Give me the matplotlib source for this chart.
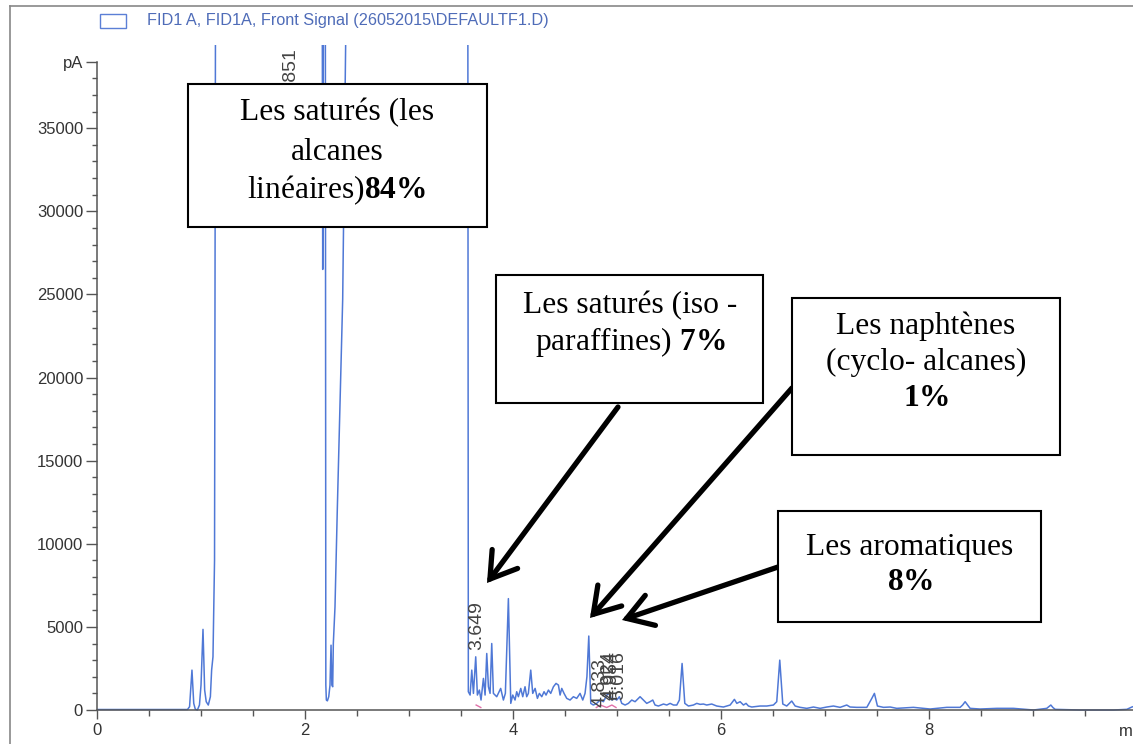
import matplotlib
matplotlib.use("Agg")
import matplotlib.pyplot as plt
from matplotlib import font_manager
from matplotlib.patches import Rectangle
from matplotlib.lines import Line2D
import numpy as np

# ---------------- data ----------------
OFF = 45000  # saturated / off-scale signal

seg_a_time = [0.00, 0.87, 0.89, 0.913, 0.93, 0.945, 0.965, 0.985, 1.00, 1.019, 1.035, 1.05, 1.07, 1.09, 1.102, 1.115, 1.13, 1.14]
seg_a_pA = [30, 30, 200, 2400, 400, 50, 0, 300, 1500, 4850, 1200, 500, 300, 800, 2400, 3200, 9000, OFF]

seg_b_time = [2.165, 2.170, 2.178, 2.195, 2.200, 2.205, 2.215, 2.228, 2.240, 2.250, 2.258, 2.266, 2.272, 2.288, 2.310, 2.343, 2.362, 2.391, 2.400]
seg_b_pA = [OFF, 26500, OFF, OFF, 1500, 600, 550, 800, 1500, 3900, 1500, 1400, 4000, 6200, 12000, 19900, 24700, 40500, OFF]

seg_c_time = [3.565, 3.570, 3.587, 3.603, 3.619, 3.641, 3.657, 3.676, 3.692, 3.715, 3.731, 3.747, 3.763, 3.779, 3.795, 3.811, 3.843,
              3.881, 3.907, 3.926, 3.955, 3.978, 3.997, 4.019, 4.035, 4.051, 4.074, 4.093, 4.115, 4.131, 4.147, 4.170, 4.189]
seg_c_pA = [OFF, 1100, 900, 2400, 1000, 3200, 900, 1200, 600, 1900, 900, 3400, 1400, 1000, 4000, 1000, 800,
            1300, 600, 1000, 6700, 400, 900, 600, 1100, 800, 1300, 800, 1400, 800, 1000, 2400, 1000]

seg_d_time = [4.212, 4.234, 4.253, 4.276, 4.298, 4.317, 4.340, 4.362, 4.388, 4.413, 4.436, 4.452, 4.468, 4.490, 4.516, 4.548, 4.580,
              4.612, 4.644, 4.670, 4.692, 4.710, 4.728, 4.747, 4.772, 4.804, 4.837, 4.869, 4.901, 4.926, 4.949, 4.971, 4.997,
              5.022, 5.045, 5.077, 5.109, 5.141, 5.173, 5.205]
seg_d_pA = [1300, 700, 1000, 800, 1100, 900, 1200, 1000, 1400, 1600, 1500, 900, 1300, 1000, 700, 600, 800,
            700, 1000, 600, 1000, 2000, 4450, 400, 300, 400, 600, 500, 900, 1000, 600, 700, 600,
            800, 400, 300, 400, 600, 500, 700]

seg_e_time = [5.221, 5.253, 5.285, 5.317, 5.343, 5.365, 5.397, 5.446, 5.478, 5.510, 5.542, 5.574, 5.599, 5.625, 5.651,
              5.686, 5.734, 5.766, 5.798, 5.830, 5.862, 5.910, 5.958, 6.022, 6.087, 6.128, 6.151, 6.183, 6.215, 6.240,
              6.263, 6.295, 6.375, 6.439, 6.503, 6.535, 6.564, 6.593, 6.631, 6.679, 6.712, 6.760, 6.824, 6.888, 6.952,
              7.016, 7.080, 7.144, 7.208, 7.240, 7.304, 7.401, 7.449, 7.474, 7.503, 7.561]
seg_e_pA = [800, 600, 400, 500, 600, 300, 240, 360, 300, 400, 300, 300, 600, 2800, 400,
            240, 300, 400, 340, 360, 300, 360, 240, 180, 300, 640, 400, 500, 300, 400,
            240, 180, 240, 240, 300, 500, 3000, 360, 240, 540, 240, 160, 100, 180, 100,
            180, 240, 160, 300, 180, 160, 160, 700, 1000, 240, 160]

seg_f_time = [7.625, 7.689, 7.849, 8.010, 8.170, 8.298, 8.322, 8.346, 8.370, 8.394, 8.490, 8.651, 8.811, 9.003,
              9.131, 9.150, 9.170, 9.190, 9.212, 9.452, 9.772, 9.901, 9.949, 9.960]
seg_f_pA = [180, 100, 160, 60, 160, 160, 300, 500, 300, 100, 60, 100, 100, 0,
            100, 200, 300, 150, 40, 0, 0, 40, 180, 200]

rt_labels = ["1.851", "3.649", "4.833", "4.924", "4.954", "5.016"]
rt_times = [1.851, 3.649, 4.833, 4.924, 4.954, 5.016]

x_ticks = [0, 2, 4, 6, 8]
y_ticks = [0, 5000, 10000, 15000, 20000, 25000, 30000, 35000, 39000]
y_tick_labels = ["0", "5000", "10000", "15000", "20000", "25000", "30000", "35000", "pA"]

legend_text = "FID1 A, FID1A, Front Signal (26052015\\DEFAULTF1.D)"

box_texts = [
    ["Les saturés (les", "alcanes", "linéaires)$\\mathbf{84\\%}$"],
    ["Les saturés (iso -", "paraffines) $\\mathbf{7\\%}$"],
    ["Les naphtènes", "(cyclo- alcanes)", "$\\mathbf{1\\%}$"],
    ["Les aromatiques", "$\\mathbf{8\\%}$"],
]

# ---------------- assemble trace ----------------
pairs = [(seg_a_time, seg_a_pA), (seg_b_time, seg_b_pA), (seg_c_time, seg_c_pA),
         (seg_d_time, seg_d_pA), (seg_e_time, seg_e_pA), (seg_f_time, seg_f_pA)]
for t, v in pairs:
    assert len(t) == len(v), (len(t), len(v))
time_min = np.concatenate([p[0] for p in pairs])
signal_pA = np.concatenate([p[1] for p in pairs])

# ---------------- fonts ----------------
available = {f.name for f in font_manager.fontManager.ttflist}
if "Liberation Sans Narrow" in available:
    tick_font, tick_size, legend_size = "Liberation Sans Narrow", 14, 14
else:
    tick_font, tick_size, legend_size = "Liberation Sans", 12, 11.7
serif = "Liberation Serif"
plt.rcParams["mathtext.fontset"] = "custom"
plt.rcParams["mathtext.rm"] = serif
plt.rcParams["mathtext.bf"] = serif + ":bold"

W, H, DPI = 1133, 744, 100
fig = plt.figure(figsize=(W / DPI, H / DPI), dpi=DPI)
fig.patch.set_facecolor("white")

def fx(x):
    return x / W

def fy(y):
    return 1 - y / H

# axes: x=0 at px 97, 104 px/min ; y=0 at px 710, top at px 45
ax = fig.add_axes([fx(97), fy(715), 1 - fx(97), (715 - 45) / H])
ax.plot(time_min, signal_pA, color="#4f78d6", lw=1.1, solid_joinstyle="round")
ax.set_xlim(0, 9.96)
ax.set_ylim(-300, 40000)

axis_col = "#555555"
for s in ["top", "right"]:
    ax.spines[s].set_visible(False)
ax.spines["bottom"].set_position(("data", 0))
ax.spines["left"].set_bounds(0, 39000)
for s in ["bottom", "left"]:
    ax.spines[s].set_color(axis_col)
    ax.spines[s].set_linewidth(1.1)

ax.set_xticks(x_ticks)
ax.set_xticklabels([str(v) for v in x_ticks])
ax.set_xticks(np.arange(0.5, 10, 0.5), minor=True)
ax.set_yticks(y_ticks)
ax.set_yticklabels(y_tick_labels)
ax.set_yticks(np.arange(1000, 39000, 1000), minor=True)
ax.tick_params(axis="x", which="major", length=6.5, width=1, color=axis_col, pad=3)
ax.tick_params(axis="x", which="minor", length=4.3, width=1, color=axis_col)
ax.tick_params(axis="y", which="major", length=8, width=1, color=axis_col, pad=2)
ax.tick_params(axis="y", which="minor", length=3.6, width=1, color=axis_col)
for lab in ax.get_xticklabels() + ax.get_yticklabels():
    lab.set_fontfamily(tick_font)
    lab.set_fontsize(tick_size)
    lab.set_color("#333333")

# retention-time labels
rt_anchor = [(39900, "top"), (3600, "bottom"), (200, "bottom"), (600, "bottom"), (600, "bottom"), (600, "bottom")]
for lab, t, (v, va) in zip(rt_labels, rt_times, rt_anchor):
    ax.text(t, v, lab, rotation=90, ha="center", va=va, fontsize=14,
            family="Liberation Sans", color="#444444")

# integration baseline marks (pink)
ax.plot([3.645, 3.69], [300, 150], color="#e070a8", lw=1)
ax.plot([4.80, 4.84, 4.90, 4.95, 4.99], [150, 300, 150, 300, 150], color="#e070a8", lw=1)

# "min" label cut at the right edge
fig.text(fx(1119), fy(731), "min", fontsize=tick_size, family=tick_font, color="#333333", va="center", ha="left")

# legend
fig.add_artist(Rectangle((fx(100), fy(28)), fx(26), 14 / H, transform=fig.transFigure,
                         fill=False, edgecolor="#5b7fd6", lw=1))
fig.text(fx(147), fy(21), legend_text, fontsize=legend_size, family=tick_font, color="#4f6cb8",
         va="center", ha="left")

# scanned-page frame lines
fig.add_artist(Line2D([fx(10), fx(10)], [0, fy(6)], transform=fig.transFigure, color="#888888", lw=1.2))
fig.add_artist(Line2D([fx(10), 1], [fy(6), fy(6)], transform=fig.transFigure, color="#888888", lw=1.2))

# annotation boxes
box_rects = [(188, 84, 487, 227), (496, 275, 763, 403), (792, 298, 1060, 455), (778, 511, 1041, 622)]
box_line_y = [[113, 152, 190], [306, 342], [326, 362, 398], [548, 583]]
box_text_x = [337, 630, 926, 910]
for (x0, y0, x1, y1), lines, ys, cx in zip(box_rects, box_texts, box_line_y, box_text_x):
    r = Rectangle((fx(x0), fy(y1)), fx(x1 - x0), (y1 - y0) / H, transform=fig.transFigure,
                  facecolor="white", edgecolor="black", lw=1.5, zorder=5)
    fig.add_artist(r)
    for s, yy in zip(lines, ys):
        fig.text(fx(cx), fy(yy), s, fontsize=22.7, family=serif, color="black",
                 ha="center", va="center", zorder=6)

# arrows (figure pixel coordinates, origin bottom-left)
arrows = [((618, 407), (487, 583)), ((792, 388), (590, 618)), ((778, 567), (622, 620))]
for (sx, sy), (tx, ty) in arrows:
    ax.annotate("", xy=(tx, H - ty), xytext=(sx, H - sy), xycoords="figure pixels",
                textcoords="figure pixels",
                arrowprops=dict(arrowstyle="->,head_length=0.6,head_width=0.38", lw=3.8,
                                color="black", shrinkA=0, shrinkB=0, mutation_scale=30,
                                capstyle="round", joinstyle="miter"),
                annotation_clip=False, zorder=7)

fig.savefig("out.png", dpi=DPI)
